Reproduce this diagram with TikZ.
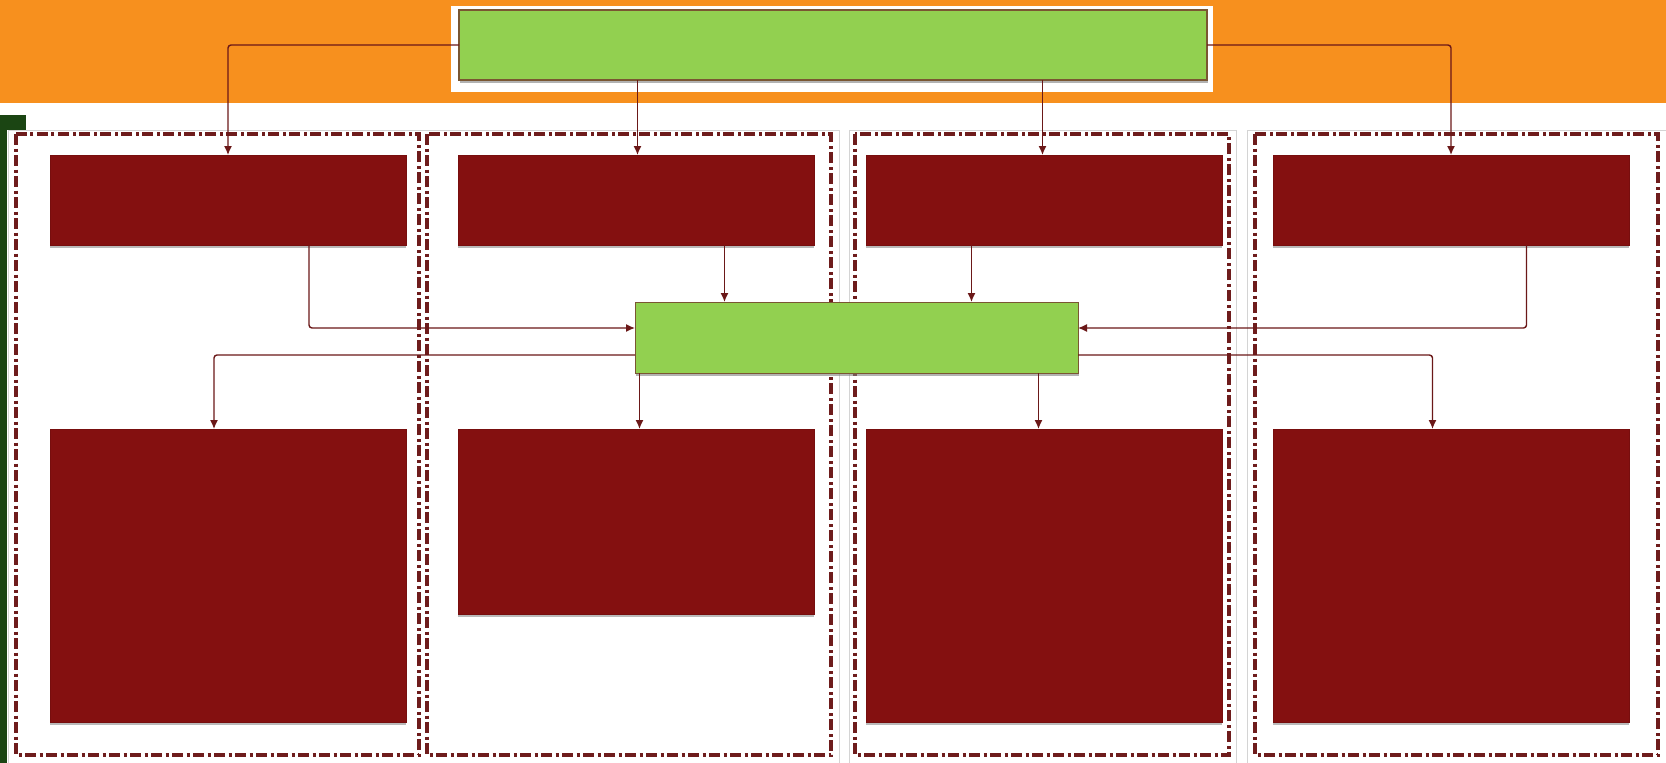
\documentclass[tikz,border=0pt]{standalone}
\usetikzlibrary{arrows.meta,shadows,calc}
\definecolor{orangebg}{HTML}{F7901E}
\definecolor{darkg}{HTML}{1B4513}
\definecolor{gfill}{HTML}{92D050}
\definecolor{gline}{HTML}{7A5632}
\definecolor{rfill}{HTML}{841010}
\definecolor{linec}{HTML}{6B1818}
\definecolor{dashc}{HTML}{6E1C1C}
\definecolor{panelgray}{HTML}{D4D4D4}
\begin{document}
\begin{tikzpicture}[x=1pt,y=-1pt,
  gbox/.style={draw=gline, line width=1.3pt, fill=gfill, outer sep=0pt, inner sep=0pt, anchor=north west,
     drop shadow={shadow xshift=1pt, shadow yshift=-3pt, fill=black!50, opacity=0.6}},
  rbox/.style={draw=rfill!90!black, line width=0.6pt, fill=rfill, outer sep=0pt, inner sep=0pt, anchor=north west,
     minimum width=356pt, drop shadow={shadow xshift=0pt, shadow yshift=-3pt, fill=black!45, opacity=0.6}},
  panel/.style={draw=panelgray, line width=0.8pt, fill=white},
  dd/.style={draw=dashc, line width=3.2pt, dash pattern=on 11pt off 3.5pt on 3pt off 3.5pt},
  conn/.style={draw=linec, line width=1.4pt, rounded corners=3pt, -{Latex[length=9pt,width=8pt]}}
]
\useasboundingbox (0,0) rectangle (1666,763);
% background bands
\fill[orangebg] (0,0) rectangle (1666,103);
\fill[darkg] (0,115) rectangle (26,130);
\fill[darkg] (0,130) rectangle (7,763);
% gray panels
\draw[panel] (8,130) rectangle (839,775);
\draw[panel] (849,130) rectangle (1236,775);
\draw[panel] (1247,130) rectangle (1675,775);
% dash-dot frames
\draw[dd] (16,134) rectangle (419,755);
\draw[dd] (427,134) rectangle (831,755);
\draw[dd] (855,134) rectangle (1229,755);
\draw[dd] (1255,134) rectangle (1658,755);
% white frame behind top box
\fill[white] (451,6) rectangle (1213,92);
% nodes
\node[gbox, minimum width=748pt, minimum height=70pt] (topg) at (459,10) {};
\node[rbox, minimum height=90pt] (b1) at (50,155) {};
\node[rbox, minimum height=90pt] (b2) at (458,155) {};
\node[rbox, minimum height=90pt] (b3) at (866,155) {};
\node[rbox, minimum height=90pt] (b4) at (1273,155) {};
\node[gbox, line width=1pt, minimum width=443pt, minimum height=71pt] (mid) at (635,302) {};
\node[rbox, minimum height=293pt] (c1) at (50,429) {};
\node[rbox, minimum height=185pt] (c2) at (458,429) {};
\node[rbox, minimum height=293pt] (c3) at (866,429) {};
\node[rbox, minimum height=293pt] (c4) at (1273,429) {};
% connectors: top box to first row
\draw[conn] (topg.west) -| (b1.north);
\draw[conn] ([xshift=1.5pt]b2.north |- topg.south) -- ([xshift=1.5pt]b2.north);
\draw[conn] ([xshift=-1.5pt]b3.north |- topg.south) -- ([xshift=-1.5pt]b3.north);
\draw[conn] (topg.east) -| (b4.north);
% first row to middle box
\draw[conn] ([xshift=81pt]b1.south) |- ([yshift=9.5pt]mid.west);
\draw[conn] ([xshift=88.5pt]b2.south) -- ([xshift=88.5pt]b2.south |- mid.north);
\draw[conn] ([xshift=-72.5pt]b3.south) -- ([xshift=-72.5pt]b3.south |- mid.north);
\draw[conn] ([xshift=75.5pt]b4.south) |- ([yshift=9.5pt]mid.east);
% middle box to second row
\draw[conn] ([yshift=-17.5pt]mid.west) -| ([xshift=-14pt]c1.north);
\draw[conn] ([xshift=3.5pt]c2.north |- mid.south) -- ([xshift=3.5pt]c2.north);
\draw[conn] ([xshift=-5.5pt]c3.north |- mid.south) -- ([xshift=-5.5pt]c3.north);
\draw[conn] ([yshift=-17.5pt]mid.east) -| ([xshift=-18.5pt]c4.north);
\end{tikzpicture}
\end{document}
